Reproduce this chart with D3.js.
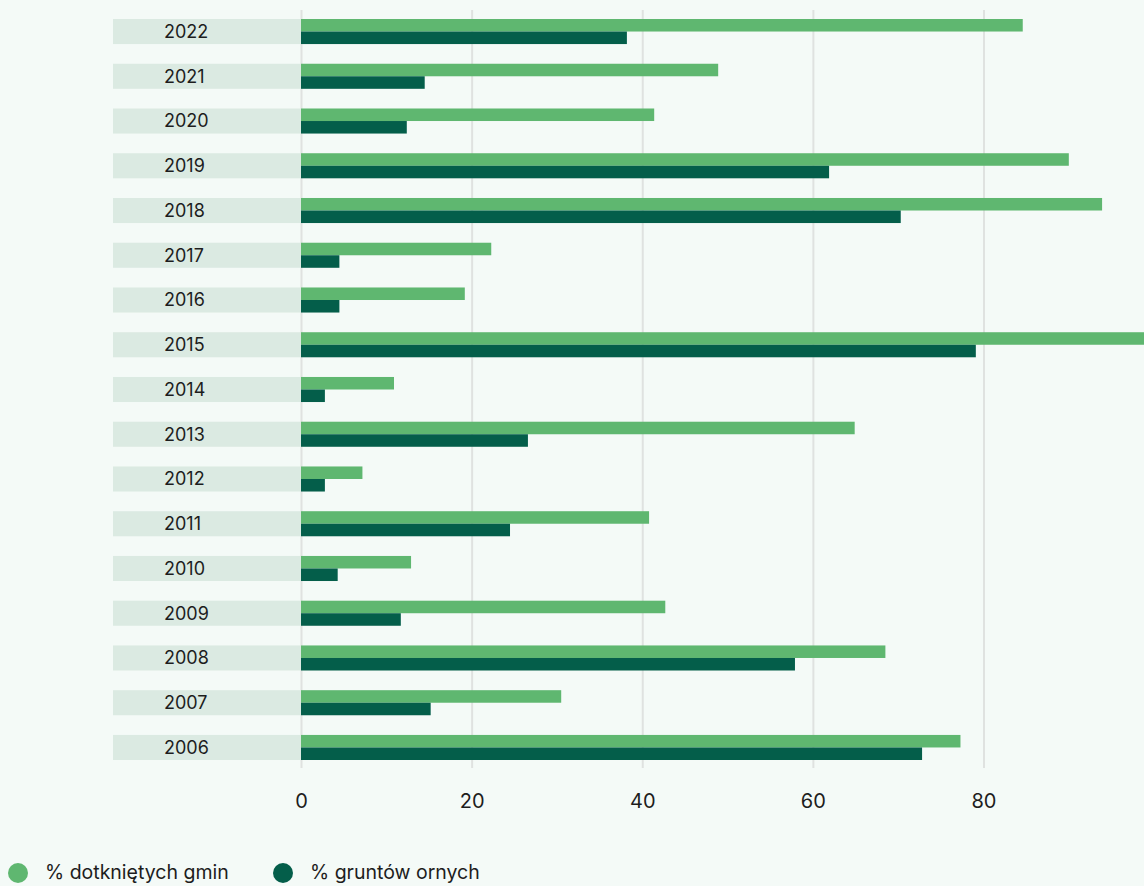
<!DOCTYPE html>
<html>
<head>
<meta charset="utf-8">
<script src="https://cdn.jsdelivr.net/npm/d3@7"></script>
<style>
  html, body { margin: 0; padding: 0; background: #f4faf7; }
  svg { display: block; font-family: Inter, "Open Sans", sans-serif; }
</style>
</head>
<body>
<svg id="chart" width="1144" height="886"></svg>
<script>
// Years, top to bottom
const years = ["2022","2021","2020","2019","2018","2017","2016","2015","2014","2013","2012","2011","2010","2009","2008","2007","2006"];
// % dotkniętych gmin
const gminy = [84.6, 48.9, 41.4, 90.0, 93.9, 22.3, 19.2, 100, 10.9, 64.9, 7.2, 40.8, 12.9, 42.7, 68.5, 30.5, 77.3];
// % gruntów ornych
const grunty = [38.2, 14.5, 12.4, 61.9, 70.3, 4.5, 4.5, 79.1, 2.8, 26.6, 2.8, 24.5, 4.3, 11.7, 57.9, 15.2, 72.8];
const xTicks = [0, 20, 40, 60, 80];
const seriesNames = ["% dotkniętych gmin", "% gruntów ornych"];
const seriesColors = ["#5fb770", "#045e4a"];

const svg = d3.select("#chart");
const W = 1144;

const x = d3.scaleLinear().domain([0, 80]).range([301, 983.5]);
const y = d3.scaleBand().domain(years).range([19, 760]).paddingInner(0.44).paddingOuter(0);

// Gridlines
svg.append("g").selectAll("line").data(xTicks).join("line")
  .attr("x1", d => x(d) + 0.5).attr("x2", d => x(d) + 0.5)
  .attr("y1", 10).attr("y2", 768)
  .attr("stroke", "#dfe2e0").attr("stroke-width", 2);

// Year label bands
const rows = svg.append("g").selectAll("g").data(years).join("g")
  .attr("transform", d => `translate(0,${y(d)})`);
rows.append("rect")
  .attr("x", 113).attr("width", 301 - 113)
  .attr("height", y.bandwidth())
  .attr("fill", "#dbeae2");
rows.append("text")
  .attr("x", 164).attr("y", y.bandwidth() / 2)
  .attr("dy", "0.36em")
  .attr("font-size", 18).attr("fill", "#1d1d1d")
  .text(d => d);

// Bars (clipped to the drawing area)
const half = y.bandwidth() / 2;
svg.append("clipPath").attr("id", "plotclip")
  .append("rect").attr("x", 0).attr("y", 0).attr("width", W).attr("height", 886);
const bars = svg.append("g").attr("clip-path", "url(#plotclip)");
bars.selectAll("rect.g").data(years).join("rect").attr("class", "g")
  .attr("x", x(0)).attr("y", d => y(d))
  .attr("width", (d, i) => x(gminy[i]) - x(0))
  .attr("height", half)
  .attr("fill", seriesColors[0]);
bars.selectAll("rect.o").data(years).join("rect").attr("class", "o")
  .attr("x", x(0)).attr("y", d => y(d) + half)
  .attr("width", (d, i) => x(grunty[i]) - x(0))
  .attr("height", half)
  .attr("fill", seriesColors[1]);

// X axis labels
const axis = d3.axisBottom(x).tickValues(xTicks).tickSize(0).tickPadding(0);
const ax = svg.append("g").attr("transform", "translate(0,794)").call(axis);
ax.select(".domain").remove();
ax.selectAll("text").attr("font-size", 20).attr("fill", "#1d1d1d")
  .attr("font-family", "Inter, 'Open Sans', sans-serif").attr("dy", "0.71em");

// Legend
const legX = [18, 283];
const leg = svg.append("g").selectAll("g").data(seriesNames).join("g")
  .attr("transform", (d, i) => `translate(${legX[i]},873)`);
leg.append("circle").attr("r", 10).attr("fill", (d, i) => seriesColors[i]);
leg.append("text").attr("x", 27).attr("y", 6)
  .attr("font-size", 19.5).attr("fill", "#1d1d1d")
  .text(d => d);
</script>
</body>
</html>
